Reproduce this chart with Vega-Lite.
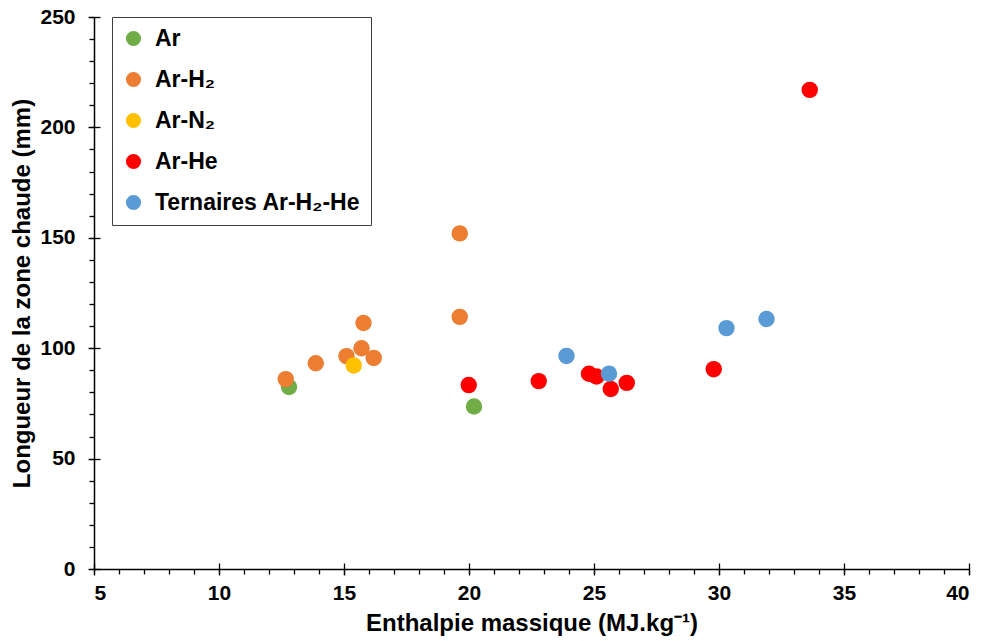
{
  "$schema": "https://vega.github.io/schema/vega-lite/v6.json",
  "width": 875,
  "height": 552,
  "autosize": "none",
  "padding": {"left": 94, "top": 17, "right": 14, "bottom": 72},
  "background": "white",
  "config": {
    "view": {"stroke": null},
    "font": "Liberation Sans",
    "axis": {
      "labelFont": "Liberation Sans",
      "labelFontWeight": "bold",
      "labelColor": "#000000",
      "titleFont": "Liberation Sans",
      "titleFontWeight": "bold",
      "titleColor": "#000000",
      "domainColor": "#000000",
      "tickColor": "#000000",
      "grid": false
    },
    "legend": {
      "orient": "none",
      "legendX": 18,
      "legendY": 0,
      "strokeColor": "#404040",
      "fillColor": "white",
      "padding": 10,
      "labelFont": "Liberation Sans",
      "labelFontWeight": "bold",
      "labelFontSize": 23,
      "labelLimit": 0,
      "labelColor": "#000000",
      "labelOffset": 10,
      "symbolType": "circle",
      "symbolSize": 230,
      "symbolStrokeWidth": 0,
      "rowPadding": 17,
      "titlePadding": 0
    }
  },
  "data": {
    "values": [
      {"h": 12.8, "l": 82.4, "g": "Ar"},
      {"h": 20.2, "l": 73.6, "g": "Ar"},
      {"h": 12.67, "l": 86.0, "g": "Ar-H₂"},
      {"h": 13.87, "l": 93.2, "g": "Ar-H₂"},
      {"h": 15.1, "l": 96.4, "g": "Ar-H₂"},
      {"h": 15.7, "l": 100.0, "g": "Ar-H₂"},
      {"h": 15.78, "l": 111.4, "g": "Ar-H₂"},
      {"h": 16.19, "l": 95.6, "g": "Ar-H₂"},
      {"h": 19.63, "l": 152.0, "g": "Ar-H₂"},
      {"h": 19.63, "l": 114.2, "g": "Ar-H₂"},
      {"h": 15.39, "l": 92.2, "g": "Ar-N₂"},
      {"h": 19.99, "l": 83.3, "g": "Ar-He"},
      {"h": 22.79, "l": 85.1, "g": "Ar-He"},
      {"h": 24.8, "l": 88.4, "g": "Ar-He"},
      {"h": 25.1, "l": 87.2, "g": "Ar-He"},
      {"h": 25.67, "l": 81.5, "g": "Ar-He"},
      {"h": 26.31, "l": 84.3, "g": "Ar-He"},
      {"h": 29.79, "l": 90.5, "g": "Ar-He"},
      {"h": 33.63, "l": 217.0, "g": "Ar-He"},
      {"h": 23.9, "l": 96.5, "g": "Ternaires Ar-H₂-He"},
      {"h": 25.6, "l": 88.5, "g": "Ternaires Ar-H₂-He"},
      {"h": 30.3, "l": 109.1, "g": "Ternaires Ar-H₂-He"},
      {"h": 31.9, "l": 113.2, "g": "Ternaires Ar-H₂-He"}
    ]
  },
  "resolve": {"axis": {"x": "independent", "y": "independent"}},
  "layer": [
    {
      "mark": {"type": "point", "opacity": 0},
      "encoding": {
        "x": {"field": "h", "type": "quantitative", "scale": {"domain": [5, 40], "nice": false, "zero": false},
          "axis": {"orient": "bottom", "values": [5,6,7,8,9,10,11,12,13,14,15,16,17,18,19,20,21,22,23,24,25,26,27,28,29,30,31,32,33,34,35,36,37,38,39,40], "labels": false, "domain": false, "tickSize": 5, "tickWidth": 1.3, "title": null}},
        "y": {"field": "l", "type": "quantitative", "scale": {"domain": [0, 250], "nice": false},
          "axis": {"orient": "left", "values": [0,10,20,30,40,50,60,70,80,90,100,110,120,130,140,150,160,170,180,190,200,210,220,230,240,250], "labels": false, "domain": false, "tickSize": 5, "tickWidth": 1.3, "title": null}}
      }
    },
    {
      "mark": {"type": "point", "opacity": 0},
      "encoding": {
        "x": {"field": "h", "type": "quantitative",
          "axis": {"orient": "bottom", "values": [5,10,15,20,25,30,35,40], "labels": false, "domain": false, "tickSize": -6, "tickWidth": 1.3, "title": null}},
        "y": {"field": "l", "type": "quantitative",
          "axis": {"orient": "left", "values": [0,50,100,150,200,250], "labels": false, "domain": false, "tickSize": -6, "tickWidth": 1.3, "title": null}}
      }
    },
    {
      "mark": {"type": "point", "filled": true, "opacity": 1, "size": 270, "shape": "circle", "strokeWidth": 0},
      "encoding": {
        "x": {"field": "h", "type": "quantitative",
          "axis": {"orient": "bottom", "values": [5,10,15,20,25,30,35,40], "tickSize": 6, "tickWidth": 1.3, "domainWidth": 1.5, "labelFontSize": 21, "labelPadding": 7, "title": "Enthalpie massique (MJ.kg⁻¹)", "titleFontSize": 24, "titlePadding": 8}},
        "y": {"field": "l", "type": "quantitative",
          "axis": {"orient": "left", "values": [0,50,100,150,200,250], "tickSize": 6, "tickWidth": 1.3, "domainWidth": 1.5, "labelFontSize": 21, "labelPadding": 13, "title": "Longueur de la zone chaude (mm)", "titleFontSize": 24, "titlePadding": 5}},
        "color": {"field": "g", "type": "nominal", "title": null,
          "scale": {"domain": ["Ar", "Ar-H₂", "Ar-N₂", "Ar-He", "Ternaires Ar-H₂-He"], "range": ["#70AD47", "#ED7D31", "#FFC000", "#FF0000", "#5B9BD5"]},
          "legend": {"title": null}}
      }
    }
  ]
}
